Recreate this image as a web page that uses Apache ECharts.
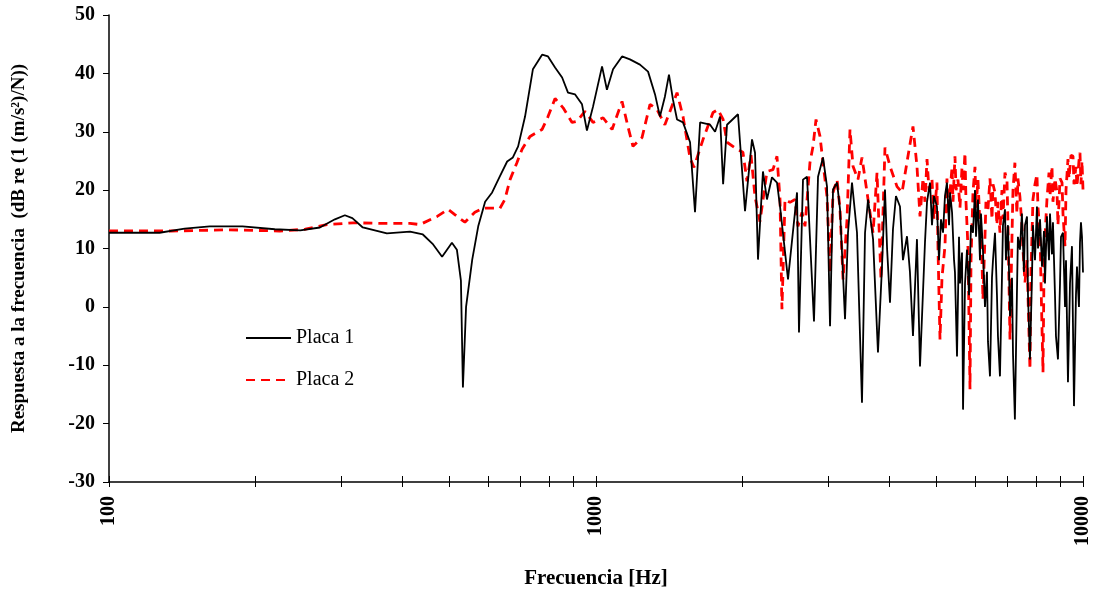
<!DOCTYPE html>
<html>
<head>
<meta charset="utf-8">
<script src="https://cdn.jsdelivr.net/npm/echarts@6/dist/echarts.min.js"></script>
<style>
  html, body { margin: 0; padding: 0; background: #fff; }
  #chart { width: 1094px; height: 596px; }
</style>
</head>
<body>
<div id="chart"></div>
<script>
// [frequency Hz, response dB]
const placa1 = [
  [100, 12.7], [127, 12.7], [143, 13.4], [161, 13.8], [188, 13.8], [219, 13.3], [247, 13.1], [271, 13.6], [291, 15.0], [305, 15.7],
  [316, 15.2], [332, 13.6], [372, 12.6], [415, 12.9], [441, 12.4], [463, 10.7], [483, 8.6], [506, 11.0], [518, 9.8], [528, 4.5],
  [533, -13.8], [541, 0], [557, 8.1], [573, 13.8], [592, 18.0], [612, 19.6], [635, 22.4], [657, 24.9], [675, 25.6], [692, 27.5],
  [715, 32.6], [742, 40.7], [775, 43.2], [797, 42.9], [824, 41.0], [852, 39.3], [876, 36.7], [906, 36.4], [936, 34.7], [958, 30.2],
  [986, 34.3], [1029, 41.2], [1053, 37.2], [1084, 40.7], [1131, 42.9], [1174, 42.4], [1231, 41.5], [1279, 40.3], [1322, 36.4], [1353, 32.6],
  [1385, 36.0], [1412, 39.8], [1439, 35.5], [1467, 32.1], [1509, 31.6], [1560, 28.2], [1597, 16.2], [1636, 31.6], [1715, 31.2], [1756, 30.0],
  [1798, 32.6], [1824, 21.0], [1858, 31.2], [1957, 33.0], [2023, 16.4], [2091, 28.7], [2121, 26.4], [2151, 8.1], [2202, 23.2], [2244, 18.4],
  [2298, 22.2], [2353, 21.3], [2387, 17.2], [2479, 4.7], [2587, 19.6], [2611, -4.4], [2661, 21.8], [2712, 22.3], [2803, -2.5], [2857, 22.3],
  [2925, 25.6], [2981, 20.6], [3024, -3.3], [3067, 20.1], [3126, 21.3], [3170, 16.7], [3246, -2.1], [3292, 12.7], [3355, 21.3], [3435, 12.7],
  [3517, -16.4], [3568, 12.7], [3619, 18.4], [3706, 11.6], [3793, -7.8], [3866, 6.9], [3921, 20.1], [3960, 10.0], [4015, 0.7], [4072, 13.3],
  [4130, 19.0], [4209, 17.2], [4269, 8.0], [4351, 12.1], [4412, 6.0], [4476, -5.0], [4561, 11.6], [4627, -10.2], [4737, 11.0], [4783, 18.0],
  [4851, 21.3], [4897, 14.0], [4943, 19.0], [5013, 17.2], [5062, 8.0], [5110, 15.0], [5159, 12.7], [5207, 19.0], [5256, 21.3], [5308, 14.0],
  [5333, 19.6], [5384, 16.2], [5435, 8.0], [5459, 5.9], [5512, -8.5], [5564, 12.0], [5590, 4.0], [5644, 9.3], [5671, -17.6], [5724, 4.0],
  [5779, 9.8], [5833, 2.0], [5889, 14.0], [5944, 12.7], [6001, 20.0], [6030, 12.0], [6086, 18.4], [6144, 8.0], [6173, 16.0], [6231, 9.8],
  [6291, 0], [6351, 6.0], [6381, -6.0], [6442, -11.9], [6503, 5.0], [6534, 8.0], [6596, 12.7], [6658, 2.0], [6689, -5.0], [6753, -11.9],
  [6817, 5.0], [6850, 14.0], [6915, 16.7], [6947, 8.0], [7014, 14.0], [7081, -1.6], [7148, 5.0], [7182, -8.0], [7247, -19.3], [7316, 2.0],
  [7351, 12.0], [7421, 9.8], [7491, 16.0], [7563, 6.0], [7601, 14.0], [7674, 15.5], [7710, 2.0], [7782, -9.0], [7856, 5.0], [7893, 14.0],
  [7969, 8.0], [8043, 17.2], [8084, 10.0], [8161, 15.0], [8238, 6.9], [8316, 13.0], [8355, 4.0], [8433, 15.5], [8515, 8.0], [8555, 16.0],
  [8636, 9.0], [8676, 14.5], [8760, 2.0], [8800, -5.0], [8884, -9.0], [8970, 4.0], [9012, 12.0], [9097, 12.7], [9185, 0], [9228, 8.0],
  [9314, -12.9], [9404, 4.0], [9492, 10.4], [9583, -17.0], [9673, 2.0], [9719, 6.9], [9811, 0], [9858, 11.0], [9904, 14.5], [9952, 12.0],
  [10000, 5.9],
];

const placa2 = [
  [100, 13.0], [134, 13.0], [177, 13.2], [224, 13.0], [253, 13.3], [280, 14.1], [317, 14.4], [365, 14.3], [415, 14.3], [435, 14.1],
  [472, 15.5], [497, 16.7], [513, 15.8], [538, 14.5], [564, 16.2], [586, 16.9], [635, 16.9], [650, 18.4], [666, 21.8], [688, 24.7],
  [705, 27.0], [732, 29.2], [775, 30.4], [797, 32.6], [824, 35.7], [856, 34.1], [893, 31.6], [914, 31.8], [949, 33.5], [986, 31.6],
  [1034, 32.4], [1079, 30.4], [1131, 35.2], [1163, 30.9], [1191, 27.5], [1243, 29.0], [1291, 34.7], [1335, 33.8], [1385, 31.2], [1467, 36.7],
  [1509, 32.6], [1560, 25.5], [1589, 23.9], [1659, 28.7], [1739, 33.3], [1780, 33.8], [1824, 32.1], [1858, 28.2], [1948, 27.0], [2003, 26.5],
  [2042, 21.5], [2081, 26.0], [2121, 18.9], [2171, 14.6], [2244, 23.2], [2309, 23.5], [2353, 25.8], [2387, 18.4], [2409, -0.4], [2444, 18.4],
  [2502, 17.9], [2562, 18.4], [2598, 13.8], [2649, 16.2], [2686, 13.8], [2750, 24.7], [2790, 27.5], [2830, 32.1], [2884, 29.2], [2925, 24.7],
  [2981, 18.9], [3024, 5.9], [3067, 19.6], [3126, 21.8], [3170, 16.7], [3216, 4.7], [3277, 15.0], [3323, 30.4], [3371, 24.1], [3451, 21.8],
  [3517, 25.6], [3619, 18.4], [3706, 12.7], [3776, 23.0], [3848, 4.7], [3921, 27.3], [4015, 24.1], [4151, 20.6], [4250, 19.6], [4371, 25.8],
  [4476, 30.9], [4561, 24.1], [4627, 15.5], [4693, 22.0], [4737, 18.0], [4783, 25.3], [4828, 20.0], [4897, 21.8], [4943, 15.0], [5013, 21.3],
  [5038, 10.0], [5086, -5.6], [5134, 5.0], [5207, 10.4], [5256, 22.0], [5283, 16.0], [5333, 19.6], [5384, 24.0], [5409, 18.0], [5459, 25.8],
  [5487, 20.0], [5537, 21.8], [5590, 17.0], [5644, 24.0], [5671, 20.0], [5723, 26.4], [5751, 18.0], [5806, 10.0], [5861, -14.1], [5889, 8.0],
  [5944, 19.6], [6001, 24.0], [6030, 17.0], [6086, 21.8], [6144, 14.0], [6202, 8.0], [6231, 1.3], [6291, 12.0], [6320, 18.0], [6381, 16.7],
  [6442, 22.0], [6503, 15.0], [6534, 21.0], [6596, 19.6], [6658, 14.0], [6689, 18.0], [6753, 12.7], [6817, 20.0], [6850, 15.0], [6915, 23.0],
  [6981, 21.8], [7014, 14.0], [7081, -5.6], [7148, 12.0], [7182, 20.0], [7247, 24.7], [7316, 16.0], [7351, 22.0], [7421, 18.9], [7491, 14.0],
  [7527, 10.0], [7601, 4.2], [7674, 8.0], [7710, 2.0], [7782, -10.7], [7819, 6.0], [7893, 18.4], [7969, 21.0], [8043, 22.7], [8084, 17.0],
  [8161, 12.7], [8200, 4.0], [8277, -11.2], [8316, 6.0], [8355, 12.0], [8433, 18.4], [8515, 23.0], [8555, 19.0], [8636, 24.1], [8676, 18.0],
  [8760, 22.0], [8844, 19.6], [8884, 14.0], [8970, 22.0], [9056, 21.3], [9097, 16.0], [9185, 10.4], [9228, 20.0], [9314, 25.3], [9359, 22.0],
  [9449, 26.0], [9539, 25.8], [9583, 21.0], [9673, 24.0], [9719, 20.6], [9811, 25.0], [9858, 26.4], [9904, 21.0], [9952, 25.0], [10000, 20.1],
];

const xLabels = [100, 1000, 10000];
const xTicks = [100, 200, 300, 400, 500, 600, 700, 800, 900, 1000,
  2000, 3000, 4000, 5000, 6000, 7000, 8000, 9000, 10000];

const font = "'Liberation Serif', 'Times New Roman', serif";
const chart = echarts.init(document.getElementById("chart"));

const logAxis = {
  type: "log",
  logBase: 10,
  min: 100,
  max: 10000,
  gridIndex: 0,
  position: "bottom",
  splitLine: { show: false },
};

chart.setOption({
  animation: false,
  backgroundColor: "#fff",
  grid: { left: 109, right: 11, top: 15, bottom: 114 },
  legend: {
    orient: "vertical",
    left: 240,
    top: 323,
    itemWidth: 45,
    itemHeight: 14,
    itemGap: 22,
    itemStyle: { opacity: 0 },
    textStyle: { fontFamily: font, fontSize: 20, color: "#000" },
    data: ["Placa 1", "Placa 2"],
  },
  xAxis: [
    {
      ...logAxis,
      name: "Frecuencia [Hz]",
      nameLocation: "middle",
      nameGap: 86,
      nameTextStyle: { fontFamily: font, fontSize: 21, fontWeight: "bold", color: "#000" },
      axisLine: { onZero: false, lineStyle: { color: "#000", width: 1.5 } },
      axisTick: { length: 5, customValues: xTicks, lineStyle: { color: "#000" } },
      axisLabel: {
        rotate: 90,
        margin: 14,
        customValues: xLabels,
        formatter: (v) => String(v),
        fontFamily: font,
        fontSize: 20,
        fontWeight: "bold",
        color: "#000",
      },
    },
    {
      ...logAxis,
      axisLine: { show: false, onZero: false },
      axisTick: { inside: true, length: 6, customValues: xTicks, lineStyle: { color: "#000" } },
      axisLabel: { show: false },
    },
  ],
  yAxis: {
    type: "value",
    min: -30,
    max: 50,
    interval: 10,
    name: "Respuesta a la frecuencia  (dB re (1 (m/s²)/N))",
    nameLocation: "middle",
    nameGap: 80,
    nameTextStyle: { fontFamily: font, fontSize: 19, fontWeight: "bold", color: "#000" },
    splitLine: { show: false },
    axisLine: { show: true, lineStyle: { color: "#000", width: 1.5 } },
    axisTick: { show: true, length: 6, lineStyle: { color: "#000" } },
    axisLabel: { margin: 14, fontFamily: font, fontSize: 20, fontWeight: "bold", color: "#000" },
  },
  series: [
    {
      name: "Placa 1",
      type: "line",
      symbol: "none",
      data: placa1,
      lineStyle: { color: "#000", width: 1.8 },
      itemStyle: { color: "#000" },
      z: 3,
    },
    {
      name: "Placa 2",
      type: "line",
      symbol: "none",
      data: placa2,
      lineStyle: { color: "#ff0000", width: 2.8, type: [9, 6] },
      itemStyle: { color: "#ff0000" },
      z: 2,
    },
  ],
});
</script>
</body>
</html>
